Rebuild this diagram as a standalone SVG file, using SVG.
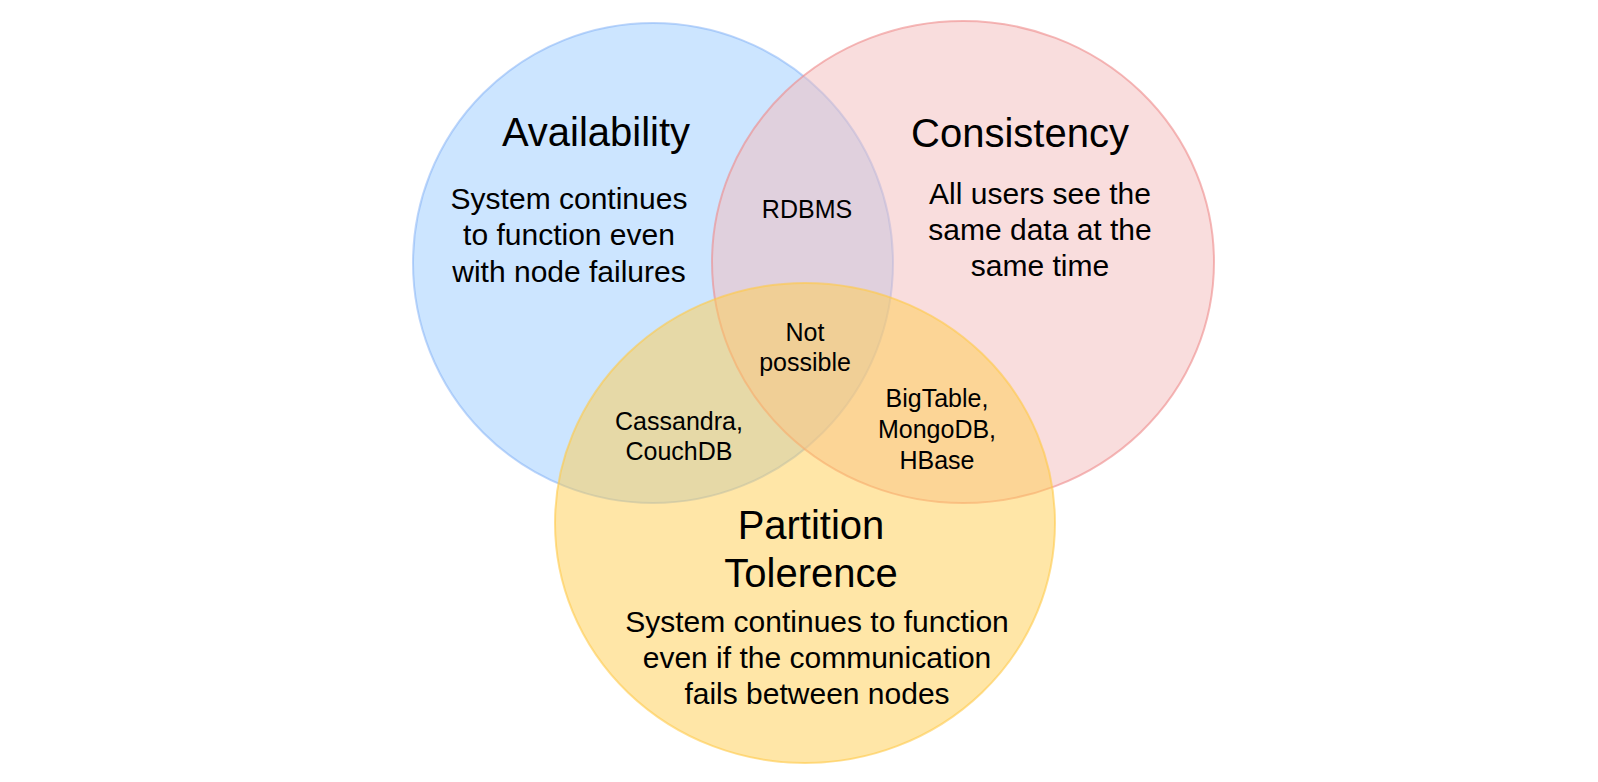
<svg xmlns="http://www.w3.org/2000/svg" width="1598" height="782" viewBox="0 0 1598 782">
<style>
text{font-family:"Helvetica","Liberation Sans",Arial,sans-serif;fill:#000;text-anchor:middle}
.t{font-size:40px}
.d{font-size:30px}
.s{font-size:25px}
</style>
<rect width="1598" height="782" fill="#fff"/>
<g id="availability">
<ellipse cx="653" cy="263" rx="240" ry="240" fill="#99ccff" fill-opacity="0.5" stroke="#7eaef5" stroke-opacity="0.5" stroke-width="2"/>
</g>
<g id="consistency">
<ellipse cx="963" cy="262" rx="251" ry="241" fill="#f4bcbc" fill-opacity="0.5" stroke="#ee8a8a" stroke-opacity="0.6" stroke-width="2"/>
</g>
<g id="partition">
<ellipse cx="805" cy="523" rx="250" ry="240" fill="#ffcd4f" fill-opacity="0.5" stroke="#ffc94a" stroke-opacity="0.6" stroke-width="2"/>
</g>
<g id="labels">
<text class="t" x="596" y="146">Availability</text>
<text class="d" x="569" y="209">System continues</text>
<text class="d" x="569" y="245">to function even</text>
<text class="d" x="569" y="282">with node failures</text>
<text class="t" x="1020" y="147">Consistency</text>
<text class="d" x="1040" y="204">All users see the</text>
<text class="d" x="1040" y="240">same data at the</text>
<text class="d" x="1040" y="276">same time</text>
<text class="s" x="807" y="218">RDBMS</text>
<text class="s" x="805" y="341">Not</text>
<text class="s" x="805" y="371">possible</text>
<text class="s" x="679" y="430">Cassandra,</text>
<text class="s" x="679" y="460">CouchDB</text>
<text class="s" x="937" y="407">BigTable,</text>
<text class="s" x="937" y="438">MongoDB,</text>
<text class="s" x="937" y="469">HBase</text>
<text class="t" x="811" y="539">Partition</text>
<text class="t" x="811" y="587">Tolerence</text>
<text class="d" x="817" y="632">System continues to function</text>
<text class="d" x="817" y="668">even if the communication</text>
<text class="d" x="817" y="704">fails between nodes</text>
</g>
</svg>
